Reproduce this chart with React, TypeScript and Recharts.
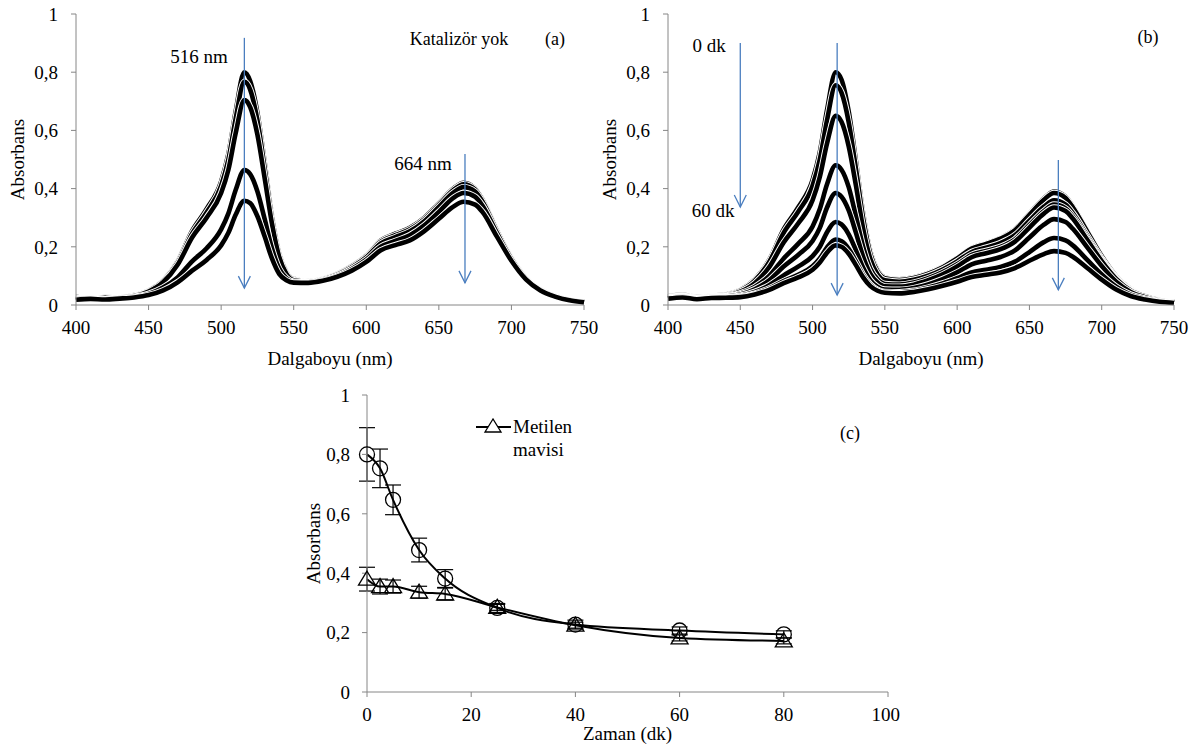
import { LineChart, Line, XAxis, YAxis, ReferenceLine, ErrorBar, Legend } from "recharts"

// ── Spectra (panels a, b) ─────────────────────────────────────────
const wavelengths = [400, 410, 420, 430, 440, 450, 460, 470, 480, 490, 500, 505, 510, 516, 520, 525, 530, 535, 540, 545, 550, 560, 570, 580, 590, 600, 610, 620, 630, 640, 650, 660, 667, 675, 680, 690, 700, 710, 720, 730, 740, 750]

// (a) Katalizör yok
const a1 = [0.028, 0.022, 0.027, 0.026, 0.034, 0.05, 0.085, 0.15, 0.255, 0.33, 0.425, 0.52, 0.665, 0.8, 0.77, 0.66, 0.49, 0.31, 0.18, 0.115, 0.09, 0.082, 0.09, 0.108, 0.135, 0.17, 0.222, 0.245, 0.265, 0.3, 0.35, 0.4, 0.42, 0.4, 0.365, 0.26, 0.165, 0.095, 0.055, 0.032, 0.018, 0.01]
const a2 = [0.025, 0.02, 0.026, 0.024, 0.032, 0.048, 0.082, 0.145, 0.245, 0.318, 0.41, 0.5, 0.64, 0.767, 0.74, 0.635, 0.47, 0.3, 0.175, 0.112, 0.088, 0.081, 0.089, 0.106, 0.133, 0.168, 0.218, 0.24, 0.26, 0.295, 0.345, 0.395, 0.415, 0.397, 0.362, 0.258, 0.163, 0.094, 0.054, 0.031, 0.018, 0.01]
const a3 = [0.022, 0.024, 0.021, 0.025, 0.031, 0.046, 0.078, 0.138, 0.232, 0.3, 0.385, 0.465, 0.59, 0.704, 0.68, 0.585, 0.435, 0.28, 0.165, 0.107, 0.085, 0.08, 0.088, 0.104, 0.13, 0.164, 0.212, 0.233, 0.253, 0.288, 0.337, 0.386, 0.405, 0.39, 0.356, 0.255, 0.161, 0.093, 0.053, 0.031, 0.017, 0.01]
const a4 = [0.02, 0.023, 0.02, 0.024, 0.028, 0.038, 0.06, 0.095, 0.15, 0.195, 0.26, 0.315, 0.395, 0.464, 0.45, 0.39, 0.295, 0.195, 0.125, 0.092, 0.08, 0.078, 0.085, 0.1, 0.124, 0.156, 0.2, 0.22, 0.24, 0.274, 0.32, 0.368, 0.385, 0.372, 0.342, 0.248, 0.158, 0.091, 0.052, 0.03, 0.017, 0.01]
const a5 = [0.018, 0.021, 0.019, 0.022, 0.026, 0.034, 0.05, 0.078, 0.118, 0.155, 0.205, 0.248, 0.31, 0.358, 0.35, 0.305, 0.235, 0.16, 0.107, 0.085, 0.077, 0.076, 0.083, 0.097, 0.118, 0.148, 0.188, 0.206, 0.222, 0.254, 0.296, 0.338, 0.355, 0.345, 0.32, 0.235, 0.152, 0.088, 0.05, 0.029, 0.016, 0.009]

// (b) 0 dk ... 60 dk
const b1 = [0.03, 0.035, 0.028, 0.032, 0.036, 0.052, 0.088, 0.155, 0.26, 0.335, 0.43, 0.525, 0.67, 0.8, 0.775, 0.665, 0.495, 0.315, 0.185, 0.12, 0.095, 0.088, 0.095, 0.11, 0.132, 0.162, 0.196, 0.212, 0.23, 0.26, 0.314, 0.366, 0.39, 0.372, 0.34, 0.255, 0.17, 0.1, 0.056, 0.032, 0.018, 0.01]
const b2 = [0.028, 0.033, 0.027, 0.03, 0.034, 0.05, 0.084, 0.148, 0.248, 0.32, 0.41, 0.5, 0.635, 0.755, 0.73, 0.628, 0.468, 0.298, 0.176, 0.115, 0.092, 0.086, 0.093, 0.108, 0.13, 0.16, 0.194, 0.21, 0.228, 0.257, 0.31, 0.362, 0.385, 0.368, 0.336, 0.252, 0.168, 0.099, 0.055, 0.032, 0.018, 0.01]
const b3 = [0.027, 0.031, 0.025, 0.029, 0.032, 0.046, 0.075, 0.13, 0.215, 0.28, 0.36, 0.44, 0.555, 0.65, 0.63, 0.545, 0.41, 0.262, 0.158, 0.105, 0.085, 0.08, 0.087, 0.101, 0.122, 0.15, 0.182, 0.197, 0.213, 0.24, 0.29, 0.338, 0.36, 0.345, 0.316, 0.238, 0.16, 0.095, 0.053, 0.031, 0.017, 0.01]
const b4 = [0.026, 0.03, 0.024, 0.028, 0.03, 0.04, 0.062, 0.1, 0.16, 0.21, 0.27, 0.33, 0.415, 0.48, 0.465, 0.405, 0.305, 0.2, 0.125, 0.088, 0.072, 0.07, 0.077, 0.092, 0.113, 0.14, 0.172, 0.186, 0.2, 0.226, 0.275, 0.323, 0.345, 0.332, 0.305, 0.23, 0.155, 0.092, 0.051, 0.03, 0.017, 0.01]
const b5 = [0.025, 0.029, 0.023, 0.027, 0.029, 0.036, 0.054, 0.085, 0.132, 0.172, 0.22, 0.265, 0.335, 0.385, 0.372, 0.325, 0.248, 0.166, 0.107, 0.077, 0.064, 0.063, 0.07, 0.085, 0.105, 0.132, 0.164, 0.178, 0.192, 0.218, 0.266, 0.314, 0.335, 0.323, 0.297, 0.224, 0.151, 0.09, 0.05, 0.03, 0.016, 0.01]
const b6 = [0.024, 0.028, 0.022, 0.026, 0.027, 0.032, 0.045, 0.068, 0.102, 0.132, 0.168, 0.2, 0.25, 0.285, 0.277, 0.243, 0.188, 0.128, 0.085, 0.062, 0.053, 0.052, 0.058, 0.071, 0.089, 0.112, 0.14, 0.152, 0.165, 0.188, 0.232, 0.276, 0.295, 0.285, 0.262, 0.198, 0.134, 0.08, 0.045, 0.027, 0.015, 0.009]
const b7 = [0.023, 0.027, 0.021, 0.025, 0.026, 0.029, 0.039, 0.057, 0.082, 0.104, 0.133, 0.16, 0.198, 0.225, 0.219, 0.193, 0.15, 0.103, 0.07, 0.052, 0.045, 0.044, 0.049, 0.06, 0.074, 0.092, 0.112, 0.121, 0.131, 0.149, 0.182, 0.216, 0.23, 0.222, 0.205, 0.155, 0.105, 0.063, 0.036, 0.022, 0.013, 0.008]
const b8 = [0.022, 0.026, 0.02, 0.024, 0.025, 0.027, 0.036, 0.052, 0.075, 0.095, 0.121, 0.146, 0.18, 0.205, 0.2, 0.176, 0.137, 0.095, 0.065, 0.049, 0.042, 0.04, 0.045, 0.054, 0.066, 0.08, 0.096, 0.104, 0.112, 0.127, 0.152, 0.175, 0.185, 0.179, 0.166, 0.127, 0.087, 0.053, 0.031, 0.019, 0.011, 0.007]

const spectraA = [a1, a2, a3, a4, a5]
const spectraB = [b1, b2, b3, b4, b5, b6, b7, b8]

// arrows: wavelength, start absorbance, end absorbance
const arrowsA = [
    { x: 516, from: 0.918, to: 0.058 },
    { x: 668, from: 0.519, to: 0.076 },
]
const arrowsB = [
    { x: 450, from: 0.9, to: 0.337 },
    { x: 517, from: 0.9, to: 0.034 },
    { x: 670, from: 0.498, to: 0.052 },
]

const xTicksSpec = [400, 450, 500, 550, 600, 650, 700, 750]
const yTicks = [0, 0.2, 0.4, 0.6, 0.8, 1]

// ── Kinetics (panel c) ────────────────────────────────────────────
const times = [0, 2.5, 5, 10, 15, 25, 40, 60, 80]
const circleVals = [0.8, 0.753, 0.647, 0.478, 0.382, 0.283, 0.227, 0.207, 0.194]
const circleErr = [0.09, 0.065, 0.05, 0.04, 0.03, 0.015, 0.015, 0.012, 0.012]
const triVals = [0.38, 0.355, 0.355, 0.336, 0.33, 0.285, 0.225, 0.182, 0.172]
const triErr = [0.04, 0.025, 0.022, 0.02, 0.02, 0.01, 0.01, 0.01, 0.01]
const xTicksTime = [0, 20, 40, 60, 80, 100]

const FONT = '"Liberation Serif", "Times New Roman", serif'
const BLUE = "#4a7ebf"
const AXIS = "#868686"
const FRAME = "#404040"
const tickStyle = { fill: "#000", fontSize: 19, fontFamily: FONT }
const labelStyle = { fill: "#000", fontSize: 19, fontFamily: FONT }

const fmt = (v: number) => (v === 0 || v === 1 ? String(v) : v.toFixed(1).replace(".", ","))

const buildRows = (curves: number[][]) =>
    wavelengths.map((w, i) => {
        const row: any = { w }
        curves.forEach((c, j) => { row["s" + j] = c[i] })
        return row
    })

const Arrow = (p: any) => {
    const { x1, y1, x2, y2 } = p
    return (
        <g>
            <line x1={x1} y1={y1} x2={x2} y2={y2} stroke={BLUE} strokeWidth={1.3} />
            <polyline
                points={`${x2 - 6},${y2 - 12} ${x2},${y2} ${x2 + 6},${y2 - 12}`}
                fill="none"
                stroke={BLUE}
                strokeWidth={1.3}
            />
        </g>
    )
}

function Note({ x, y, size = 19, children }: { x: number; y: number; size?: number; children: any }) {
    return (
        <div style={{
            position: "absolute", left: x, top: y, transform: "translate(-50%, -50%)",
            fontFamily: FONT, fontSize: size, whiteSpace: "nowrap", color: "#000",
        }}>
            {children}
        </div>
    )
}

function SpectrumPanel({ left, width, curves, arrows }: { left: number; width: number; curves: number[][]; arrows: typeof arrowsA }) {
    const rows = buildRows(curves)
    return (
        <div style={{ position: "absolute", left, top: 0 }}>
            <LineChart width={width} height={372} data={rows} margin={{ top: 14, right: 16, bottom: 0, left: 0 }}>
                <XAxis
                    dataKey="w" type="number" domain={[400, 750]} ticks={xTicksSpec}
                    height={67} tickSize={5} tickMargin={11} stroke={AXIS}
                    tick={tickStyle} tickLine={{ stroke: AXIS }}
                    label={{ value: "Dalgaboyu (nm)", position: "insideBottom", offset: 7, style: labelStyle }}
                />
                <XAxis xAxisId="top" orientation="top" type="number" domain={[400, 750]} height={0} tick={false} tickLine={false} stroke={FRAME} />
                <YAxis
                    type="number" domain={[0, 1]} ticks={yTicks} width={76}
                    tickSize={5} tickMargin={13} stroke={AXIS} tick={tickStyle}
                    tickLine={{ stroke: AXIS }} tickFormatter={fmt}
                    label={{ value: "Absorbans", angle: -90, position: "insideLeft", offset: 17, style: { ...labelStyle, textAnchor: "middle" } }}
                />
                <YAxis yAxisId="right" orientation="right" type="number" domain={[0, 1]} width={0} tick={false} tickLine={false} stroke={FRAME} />
                {curves.flatMap((_, j) => [
                    <Line key={"w" + j} dataKey={"s" + j} type="monotone" stroke="#fff" strokeWidth={6.5} dot={false} activeDot={false} isAnimationActive={false} />,
                    <Line key={"k" + j} dataKey={"s" + j} type="monotone" stroke="#000" strokeWidth={4.6} dot={false} activeDot={false} isAnimationActive={false} />,
                ])}
                {arrows.map((a, i) => (
                    <ReferenceLine key={"ar" + i} segment={[{ x: a.x, y: a.from }, { x: a.x, y: a.to }]} shape={Arrow} ifOverflow="visible" />
                ))}
            </LineChart>
        </div>
    )
}

const CircleDot = (p: any) => {
    const { cx, cy, index } = p
    return <circle key={"c" + index} cx={cx} cy={cy} r={7.5} fill="none" stroke="#000" strokeWidth={1.3} />
}

const TriDot = (p: any) => {
    const { cx, cy, index } = p
    return (
        <polygon key={"t" + index} points={`${cx},${cy - 8} ${cx - 8.5},${cy + 6} ${cx + 8.5},${cy + 6}`}
            fill="none" stroke="#000" strokeWidth={1.3} />
    )
}

const MetilenLegend = () => (
    <div style={{ display: "flex", alignItems: "flex-start", fontFamily: FONT, fontSize: 19, lineHeight: "23px", color: "#000" }}>
        <svg width={35} height={18} style={{ marginTop: 3 }}>
            <line x1={0} y1={9} x2={35} y2={9} stroke="#000" strokeWidth={2} />
            <polygon points="17,1 9,14 25,14" fill="#fff" stroke="#000" strokeWidth={1.3} />
        </svg>
        <div style={{ marginLeft: 2 }}>Metilen<br />mavisi</div>
    </div>
)

function KineticsPanel() {
    const rows = times.map((t, i) => ({ t, circle: circleVals[i], circleErr: circleErr[i], tri: triVals[i], triErr: triErr[i] }))
    return (
        <div style={{ position: "absolute", left: 291, top: 380 }}>
            <LineChart width={609} height={364} data={rows} margin={{ top: 15, right: 12, bottom: 0, left: 0 }}>
                <XAxis
                    dataKey="t" type="number" domain={[0, 100]} ticks={xTicksTime}
                    height={52} tickSize={5} tickMargin={11} stroke={AXIS}
                    tick={tickStyle} tickLine={{ stroke: AXIS }}
                    label={{ value: "Zaman (dk)", position: "insideBottom", offset: 4, style: labelStyle }}
                />
                <XAxis xAxisId="top" orientation="top" type="number" domain={[0, 100]} height={0} tick={false} tickLine={false} stroke={FRAME} />
                <YAxis
                    type="number" domain={[0, 1]} ticks={yTicks} width={76}
                    tickSize={5} tickMargin={12} stroke={AXIS} tick={tickStyle}
                    tickLine={{ stroke: AXIS }} tickFormatter={fmt}
                    label={{ value: "Absorbans", angle: -90, position: "insideLeft", offset: 22, style: { ...labelStyle, textAnchor: "middle" } }}
                />
                <YAxis yAxisId="right" orientation="right" type="number" domain={[0, 1]} width={0} tick={false} tickLine={false} stroke={FRAME} />
                <Legend layout="vertical" align="center" verticalAlign="middle" wrapperStyle={{ left: 185, top: 35, width: 140 }} content={() => <MetilenLegend />} />
                <Line dataKey="circle" type="monotone" stroke="#000" strokeWidth={2} dot={CircleDot} activeDot={false} isAnimationActive={false} legendType="none">
                    <ErrorBar dataKey="circleErr" width={8} stroke="#000" strokeWidth={1.2} direction="y" isAnimationActive={false} />
                </Line>
                <Line dataKey="tri" type="monotone" stroke="#000" strokeWidth={2} dot={TriDot} activeDot={false} isAnimationActive={false} name="Metilen mavisi">
                    <ErrorBar dataKey="triErr" width={8} stroke="#000" strokeWidth={1.2} direction="y" isAnimationActive={false} />
                </Line>
            </LineChart>
        </div>
    )
}

export default function App() {
    return (
        <div style={{ position: "absolute", left: 0, top: 0, width: 1198, height: 744, background: "#fff", overflow: "hidden" }}>
            <SpectrumPanel left={0} width={600} curves={spectraA} arrows={arrowsA} />
            <SpectrumPanel left={592} width={598} curves={spectraB} arrows={arrowsB} />
            <KineticsPanel />

            <Note x={199} y={57}>516 nm</Note>
            <Note x={423} y={164}>664 nm</Note>
            <Note x={459} y={39} size={18}>Katalizör yok</Note>
            <Note x={555} y={39} size={18}>(a)</Note>

            <Note x={709} y={46}>0 dk</Note>
            <Note x={713} y={211}>60 dk</Note>
            <Note x={1148} y={37} size={18}>(b)</Note>

            <Note x={850} y={433} size={18}>(c)</Note>
        </div>
    )
}
